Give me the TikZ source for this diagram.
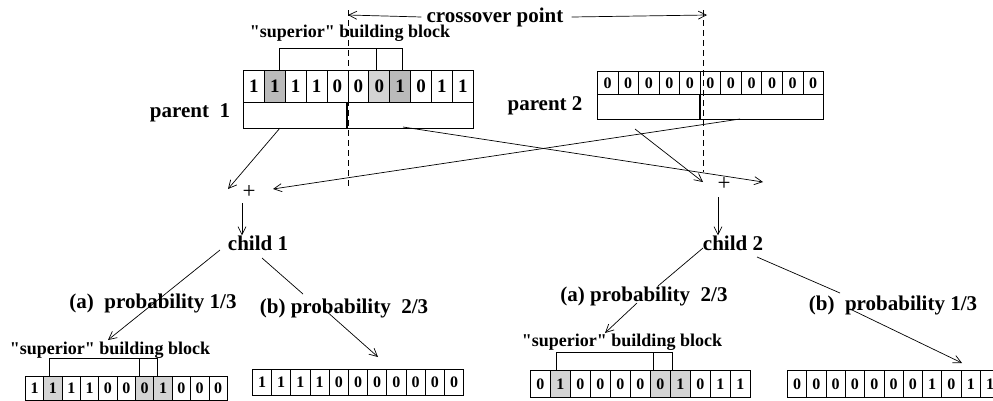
\documentclass[tikz,border=0pt]{standalone}
\usepackage{fontspec}
\setmainfont{Liberation Serif}
\usetikzlibrary{arrows.meta}

\colorlet{shadeDark}{black!27}
\colorlet{shadeLight}{black!17}

\tikzset{
  lbl/.style={font=\bfseries\fontsize{21}{23}\selectfont, inner sep=0pt},
  bblabel/.style={font=\bfseries\fontsize{18}{20}\selectfont, inner sep=0pt},
  plus/.style={font=\fontsize{23}{23}\selectfont, inner sep=0pt},
  link/.style={line width=0.7pt},
  arr/.style={link, -{Straight Barb[length=8pt,width=8pt]}},
  cut/.style={line width=0.7pt, dash pattern=on 6pt off 4pt},
  bracket/.style={line width=0.9pt},
  cellbox/.style={draw, line width=0.8pt, inner sep=0pt, anchor=north west},
}

% one bit string: name, left x, top y, cell width, cell height, font size, digit/fill list
\newcommand\bitstring[7]{%
  \foreach \d/\f [count=\i] in {#7} {
    \node[cellbox, fill=\f, minimum width=#4pt, minimum height=#5pt,
          font=\bfseries\fontsize{#6}{#6}\selectfont]
      (#1-\i) at ({#2+(\i-1)*#4}, #3) {\d};
  }%
}
\newcommand\bbtext{\textquotedbl superior\textquotedbl\ building block}

\begin{document}
\begin{tikzpicture}[x=1pt, y=-1pt]
\useasboundingbox (0,0) rectangle (993,400);

% ---------- parents ----------
\bitstring{pa}{243}{70}{20.9}{32}{19}{1/white,1/shadeDark,1/white,1/white,0/white,0/white,0/shadeLight,1/shadeDark,0/white,1/white,1/white}
\bitstring{pb}{597}{71}{20.55}{23}{16}{0/white,0/white,0/white,0/white,0/white,0/white,0/white,0/white,0/white,0/white,0/white}

% bracket boxes under the parents
\draw[link, line width=0.8pt] (pa-1.south west) -- ++(0,26) -| (pa-11.south east);
\draw[line width=1.2pt] (347,102) -- (347,128);
\draw[link, line width=0.8pt] (pb-1.south west) -- ++(0,25) -| (pb-11.south east);
\draw[line width=1.2pt] (700,94) -- (700,119);

\node[lbl] (p1) at (190,113) {parent\ \ 1};
\node[lbl] (p2) at (545,106) {parent 2};

% superior building block on parent 1
\node[bblabel] (bbA) at (350,33) {\bbtext};
\draw[bracket] (279,70) -- (279,48) -- (402,48) -- (402,70);
\draw[bracket] (376,48) -- (376,70);

% crossover points
\node[lbl] (cx) at (495,17) {crossover point};
\coordinate (cxL) at (348,15);
\coordinate (cxR) at (707,15);
\draw[arr] ([xshift=-5pt]cx.west) -- (cxL);
\draw[arr] ([xshift=8pt]cx.east) -- (cxR);

% ---------- recombination ----------
\node[plus] (plus1) at (249,192) {+};
\node[plus] (plus2) at (724,184) {+};

\coordinate (a1) at (280,128);
\coordinate (a2) at (403,127);
\coordinate (b1) at (740,119);
\coordinate (b2) at (635,129);
\coordinate (t1) at (228,189);
\coordinate (t2) at (763,182);
\coordinate (t3) at (273,189);
\coordinate (t4) at (703,182);
\draw[arr] (a1) -- (t1);
\draw[arr] (a2) -- (t2);
\draw[arr] (b1) -- (t3);
\draw[arr] (b2) -- (t4);

\node[lbl] (c1) at (258,243) {child 1};
\node[lbl] (c2) at (733,243) {child 2};
\draw[arr] (242,203) -- (c1.north -| 242,0);
\draw[arr] (718,197) -- (c2.north -| 718,0);

% ---------- mutation outcomes ----------
\node[lbl] (pa1) at (153,303) {(a)\ \ probability 1/3};
\node[lbl] (pb1) at (344,308) {(b) probability\ \ 2/3};
\node[lbl] (pa2) at (644,296) {(a) probability\ \ 2/3};
\node[lbl] (pb2) at (893,305) {(b)\ \ probability 1/3};

\coordinate (c1l) at (220,250);
\coordinate (c1r) at (262,258);
\coordinate (c2l) at (703,248);
\coordinate (c2r) at (757,257);

\draw[arr] (c1l) -- (108,340);
\draw[link] (c1r) -- (303,294);
\draw[arr] (325,310) -- (378,357);
\draw[link] (c2l) -- (658,286);
\draw[arr] (637,303) -- (605,333);
\draw[link] (c2r) -- (840,293);
\draw[arr] (850,309) -- (962,363);

% resulting strings
\bitstring{sa}{25}{376}{18.35}{24}{16}{1/white,1/shadeLight,1/white,1/white,0/white,0/white,0/shadeLight,1/shadeLight,0/white,0/white,0/white}
\bitstring{sb}{252}{369}{19.2}{26}{16}{1/white,1/white,1/white,1/white,0/white,0/white,0/white,0/white,0/white,0/white,0/white}
\bitstring{sc}{530}{370}{20}{27}{16}{0/white,1/shadeLight,0/white,0/white,0/white,0/white,0/shadeLight,1/shadeLight,0/white,1/white,1/white}
\bitstring{sd}{787}{370}{19.3}{27}{16}{0/white,0/white,0/white,0/white,0/white,0/white,0/white,1/white,0/white,1/white,1/white}

\node[bblabel] (bbB) at (110,350) {\bbtext};
\draw[bracket] (49,376) -- (49,358) -- (157,358) -- (157,376);
\draw[bracket] (139,358) -- (139,376);

\node[bblabel] (bbC) at (622,342) {\bbtext};
\draw[bracket] (556,370) -- (556,352) -- (672,352) -- (672,370);
\draw[bracket] (653,352) -- (653,370);

% crossover cut lines, drawn over the parent strings
\draw[cut] (348,10) -- (348,188);
\draw[cut] (703,10) -- (703,172);
\end{tikzpicture}
\end{document}
